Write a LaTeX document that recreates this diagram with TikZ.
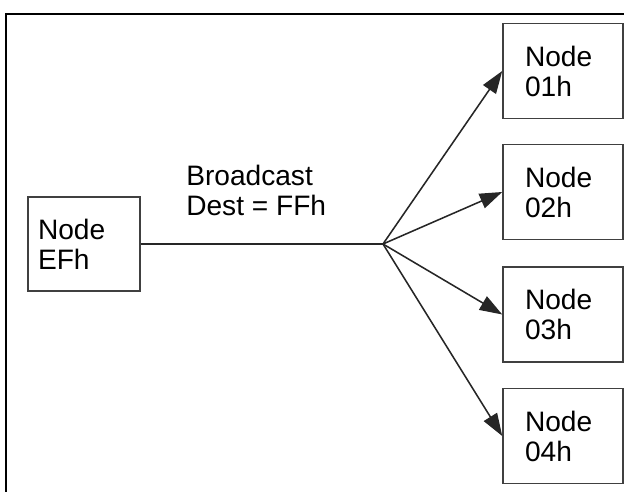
\documentclass[tikz,border=0pt]{standalone}
\usepackage{fontspec}
\setmainfont{Liberation Sans}
\usetikzlibrary{arrows.meta}

\tikzset{
  nodebox/.style={draw=black!75, line width=1.1pt, minimum height=2.375cm,
    align=left, font=\fontsize{20}{21.3}\selectfont},
  rightbox/.style={nodebox, minimum width=3cm, text width=1.9cm, inner xsep=0.55cm},
  leftbox/.style={nodebox, minimum width=2.8cm, text width=2.3cm, inner xsep=0.25cm, minimum height=2.35cm},
  link/.style={line width=1.1pt, black!85},
  bcast/.style={link, -{Triangle[length=16pt,width=11pt]}}
}

\begin{document}
\begin{tikzpicture}
    \useasboundingbox (0,0) rectangle (15.6,12.275);

    % Rahmen
    \draw[line width=1.4pt] (16,11.925) -- (0.15,11.925) -- (0.15,-1);

    % Knoten
    \node[leftbox] (nEF) at (2.1,6.175) {Node\\EFh};
    \node[rightbox] (n01) at (14.075,10.5) {Node\\01h};
    \node[rightbox] (n02) at (14.075,7.475) {Node\\02h};
    \node[rightbox] (n03) at (14.075,4.4125) {Node\\03h};
    \node[rightbox] (n04) at (14.075,1.375) {Node\\04h};

    % Broadcast
    \coordinate (hub) at (9.575,6.175);
    \draw[link] (nEF.east) -- (hub);
    \node[anchor=west, inner sep=0pt, align=left, font=\fontsize{20}{21.3}\selectfont] (lbl) at (4.65,7.525) {Broadcast\\Dest = FFh};

    \foreach \n in {01,02,03,04}
        \draw[bcast] (hub) -- (n\n.west);
\end{tikzpicture}
\end{document}
